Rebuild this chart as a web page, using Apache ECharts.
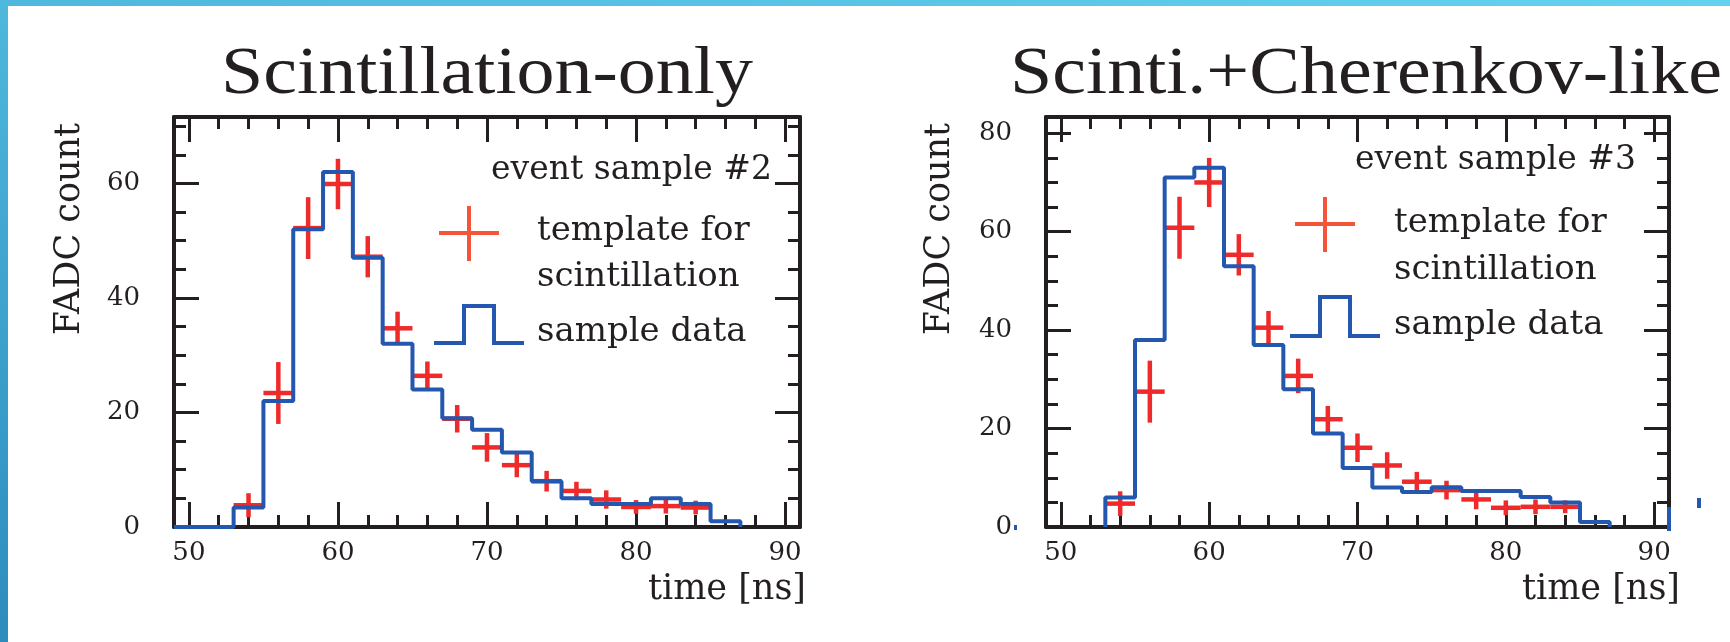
<!DOCTYPE html>
<html>
<head>
<meta charset="utf-8">
<script src="https://cdn.jsdelivr.net/npm/echarts@6/dist/echarts.min.js"></script>
<style>html,body{margin:0;padding:0;background:#fff;}#c{width:1730px;height:642px;}</style>
</head>
<body>
<div id="c"></div>
<script>
// ---- data ----
const binEdges = [53,55,57,59,61,63,65,67,69,71,73,75,77,79,81,83,85,87];
const sample2 = [3.4,22,52,62,47,32,24,19,17,13,8,5,4,4,5,4,1];
const sample3 = [6,38,71,73,53,37,28,19,12,8,7.1,8.1,7.3,7.3,6.1,5,1];
const tplX = [54,56,58,60,62,64,66,68,70,72,74,76,78,80,82,84];
const tpl2 = [3.8,23.4,52.2,59.9,47.2,34.7,26.4,18.9,13.9,10.8,8.0,6.3,4.8,3.5,3.65,3.4];
const err2 = [2.1,5.4,5.4,4.4,3.6,2.9,2.5,2.4,2.5,2.1,1.8,1.6,1.6,1.2,1.3,1.2];
const tpl3 = [4.75,27.5,60.8,70.0,55.3,40.5,30.7,21.9,16.1,12.5,9.2,7.5,5.6,3.9,4.1,4.1];
const err3 = [2.5,6.3,6.3,5.0,4.2,3.4,3.5,2.7,2.9,2.7,2.0,1.9,2.0,1.5,1.5,1.3];
const titles = ['Scintillation-only', 'Scinti.+Cherenkov-like'];
const sampleLabels = ['event sample #2', 'event sample #3'];
const xRange = [49, 91];
const yMax = [71.6, 83.3];

const INK = '#231f20';
const RED = '#ee2a2a';
const LEGRED = '#f5533a';
const BLUE = '#2457ae';
const SERIF = '"DejaVu Serif"';

function stepData(vals, leadX) {
  const d = [[leadX, 0]];
  for (let i = 0; i < vals.length; i++) d.push([binEdges[i], vals[i]]);
  d.push([binEdges[binEdges.length - 1], 0]);
  return d;
}
function crossData(t, e) { return tplX.map((x, i) => [x, t[i], e[i]]); }

function xAx(gi, pos) {
  return {
    type: 'value', gridIndex: gi, position: pos, min: xRange[0], max: xRange[1], splitNumber: 4,
    axisLine: { show: true, onZero: false, lineStyle: { color: INK, width: 4 } },
    axisTick: { show: true, inside: true, length: 25, lineStyle: { color: INK, width: 3 } },
    minorTick: { show: true, splitNumber: 5, length: 12, lineStyle: { color: INK, width: 3 } },
    splitLine: { show: false }, minorSplitLine: { show: false },
    axisLabel: pos === 'bottom' ? {
      show: true, showMinLabel: false, showMaxLabel: false, margin: 13,
      fontFamily: SERIF, fontSize: 26, color: INK,
      formatter: v => (Math.abs(v % 10) < 1e-6 ? String(v) : '')
    } : { show: false }
  };
}
function yAx(gi, pos, max) {
  return {
    type: 'value', gridIndex: gi, position: pos, min: 0, max: max, splitNumber: 4,
    axisLine: { show: true, onZero: false, lineStyle: { color: INK, width: 4 } },
    axisTick: { show: true, inside: true, length: 25, lineStyle: { color: INK, width: 3 } },
    minorTick: { show: true, splitNumber: 4, length: 12, lineStyle: { color: INK, width: 3 } },
    splitLine: { show: false }, minorSplitLine: { show: false },
    axisLabel: pos === 'left' ? {
      show: true, showMaxLabel: false, margin: 34,
      fontFamily: SERIF, fontSize: 26, color: INK,
      formatter: v => (Math.abs(v % 20) < 1e-6 ? String(v) : '')
    } : { show: false }
  };
}

function crossSeries(xi, yi, data) {
  return {
    type: 'custom', xAxisIndex: xi, yAxisIndex: yi, z: 3, clip: false,
    data: data, encode: { x: 0, y: 1 },
    renderItem: function (params, api) {
      const x = api.value(0), y = api.value(1), e = api.value(2);
      const a = api.coord([x - 1, y]), b = api.coord([x + 1, y]);
      const c = api.coord([x, y - e]), d = api.coord([x, y + e]);
      return { type: 'group', children: [
        { type: 'line', shape: { x1: a[0], y1: a[1], x2: b[0], y2: b[1] }, style: { stroke: RED, lineWidth: 4.5 } },
        { type: 'line', shape: { x1: c[0], y1: c[1], x2: d[0], y2: d[1] }, style: { stroke: RED, lineWidth: 4.5 } }
      ] };
    }
  };
}
function stepSeries(xi, yi, data) {
  return {
    type: 'line', xAxisIndex: xi, yAxisIndex: yi, step: 'end', z: 4,
    symbol: 'none', data: data, lineStyle: { color: BLUE, width: 4 }, clip: false, animation: false
  };
}

function txt(x, y, s, size, align, fam, rot, sy) {
  return { type: 'text', x: x, y: y, rotation: rot || 0, scaleY: sy || 1, z: 10,
    style: { text: s, font: size + 'px ' + (fam || SERIF), fill: INK, textAlign: align || 'left', textVerticalAlign: 'middle', verticalAlign: 'middle' } };
}
function legendGraphics(o) {
  return [
    txt(o.evR, o.evY, o.ev, 33, 'right'),
    { type: 'line', z: 10, shape: { x1: o.cx - 30, y1: o.cy, x2: o.cx + 30, y2: o.cy }, style: { stroke: LEGRED, lineWidth: 4 } },
    { type: 'line', z: 10, shape: { x1: o.cx, y1: o.cy - 27, x2: o.cx, y2: o.cy + 28 }, style: { stroke: LEGRED, lineWidth: 4 } },
    txt(o.tx, o.t1, 'template for', 34),
    txt(o.tx, o.t2, 'scintillation', 34),
    { type: 'polyline', z: 10, shape: { points: [[o.sx, o.sLow], [o.sx + 30, o.sLow], [o.sx + 30, o.sHigh], [o.sx + 60, o.sHigh], [o.sx + 60, o.sLow], [o.sx + 90, o.sLow]] }, style: { stroke: BLUE, lineWidth: 4, fill: null } },
    txt(o.tx, o.t3, 'sample data', 34)
  ];
}

const graphics = [
  { type: 'rect', z: 20, shape: { x: 0, y: 0, width: 1730, height: 6 },
    style: { fill: { type: 'linear', x: 0, y: 0, x2: 1, y2: 0, colorStops: [{ offset: 0, color: '#4fb8dc' }, { offset: 1, color: '#63d2ef' }] } } },
  { type: 'rect', z: 20, shape: { x: 0, y: 0, width: 8, height: 642 },
    style: { fill: { type: 'linear', x: 0, y: 0, x2: 0, y2: 1, colorStops: [{ offset: 0, color: '#4fb8dc' }, { offset: 1, color: '#2d8cbc' }] } } },
  txt(487, 75.5, titles[0], 76, 'center', '"Liberation Serif"', 0, 0.88),
  txt(1366, 75.5, titles[1], 76, 'center', '"Liberation Serif"', 0, 0.88),
  txt(70, 229, 'FADC count', 35, 'center', SERIF, Math.PI / 2),
  txt(940, 229, 'FADC count', 35, 'center', SERIF, Math.PI / 2),
  txt(806, 590, 'time [ns]', 35, 'right'),
  txt(1680, 590, 'time [ns]', 35, 'right'),
  // small blue marks present in the source image
  { type: 'rect', z: 10, shape: { x: 1014, y: 525, width: 3, height: 5 }, style: { fill: BLUE } },
  { type: 'rect', z: 10, shape: { x: 1667, y: 507, width: 4, height: 24 }, style: { fill: BLUE } },
  { type: 'rect', z: 10, shape: { x: 1697, y: 498, width: 4, height: 10 }, style: { fill: BLUE } }
].concat(
  legendGraphics({ ev: sampleLabels[0], evR: 772, evY: 170, cx: 469, cy: 233, tx: 537, t1: 231, t2: 277, t3: 332, sx: 434, sLow: 343, sHigh: 306 }),
  legendGraphics({ ev: sampleLabels[1], evR: 1636, evY: 160, cx: 1325, cy: 224, tx: 1394, t1: 223, t2: 270, t3: 325, sx: 1290, sLow: 336, sHigh: 297 })
);

const option = {
  animation: false,
  backgroundColor: '#ffffff',
  grid: [
    { left: 174, top: 117, width: 626, height: 410, containLabel: false },
    { left: 1046, top: 117, width: 623, height: 410, containLabel: false }
  ],
  xAxis: [xAx(0, 'bottom'), xAx(0, 'top'), xAx(1, 'bottom'), xAx(1, 'top')],
  yAxis: [yAx(0, 'left', yMax[0]), yAx(0, 'right', yMax[0]), yAx(1, 'left', yMax[1]), yAx(1, 'right', yMax[1])],
  series: [
    crossSeries(0, 0, crossData(tpl2, err2)),
    stepSeries(0, 0, stepData(sample2, xRange[0])),
    crossSeries(2, 2, crossData(tpl3, err3)),
    stepSeries(2, 2, stepData(sample3, binEdges[0]))
  ],
  graphic: graphics
};
const chart = echarts.init(document.getElementById('c'), null, { renderer: 'canvas' });
chart.setOption(option);
</script>
</body>
</html>
